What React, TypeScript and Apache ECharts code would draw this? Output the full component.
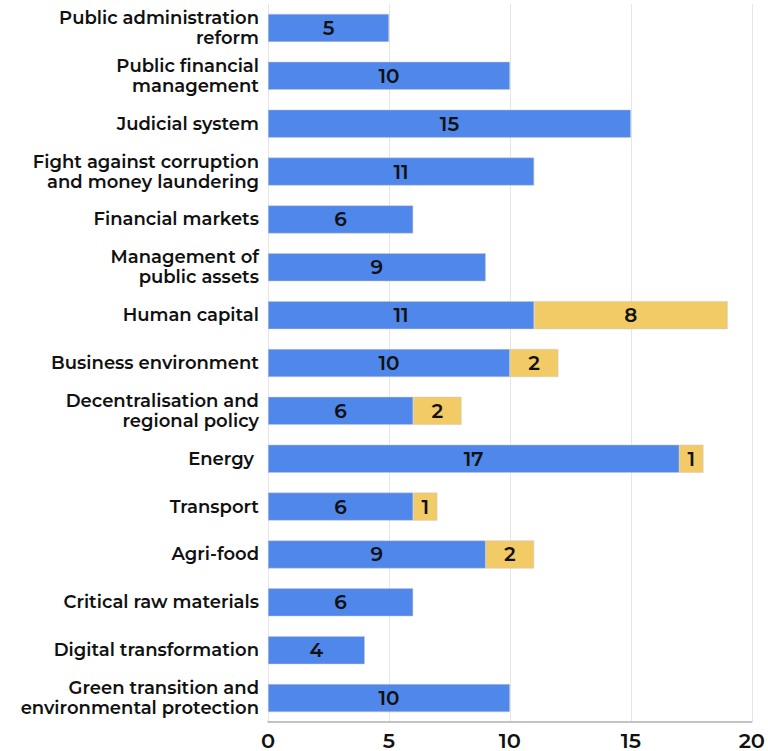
import React, { useEffect, useRef } from "react";
import * as echarts from "echarts";

const categories = [
  "Public administration\nreform",
  "Public financial\nmanagement",
  "Judicial system",
  "Fight against corruption\nand money laundering",
  "Financial markets",
  "Management of\npublic assets",
  "Human capital",
  "Business environment",
  "Decentralisation and\nregional policy",
  "Energy ",
  "Transport",
  "Agri-food",
  "Critical raw materials",
  "Digital transformation",
  "Green transition and\nenvironmental protection",
];
const blueValues = [5, 10, 15, 11, 6, 9, 11, 10, 6, 17, 6, 9, 6, 4, 10];
const yellowValues: (number | null)[] = [null, null, null, null, null, null, 8, 2, 2, 1, 1, 2, null, null, null];
const xTicks = [0, 5, 10, 15, 20];

const FONT = "Montserrat, 'Open Sans', sans-serif";

export default function App() {
  const ref = useRef<HTMLDivElement>(null);
  useEffect(() => {
    if (!ref.current) return;
    const chart = echarts.init(ref.current, null, { renderer: "svg" });
    const labelStyle = {
      show: true,
      position: "inside" as const,
      color: "#111111",
      fontSize: 20,
      fontWeight: 600 as const,
      fontFamily: FONT,
    };
    chart.setOption({
      animation: false,
      grid: { left: 268, right: 12, top: 4, bottom: 29, containLabel: false },
      xAxis: {
        type: "value",
        min: xTicks[0],
        max: xTicks[xTicks.length - 1],
        interval: 5,
        axisLine: { show: true, lineStyle: { color: "#b0b0b0", width: 1.5 } },
        axisTick: { show: false },
        splitLine: { show: true, lineStyle: { color: "#e6e6e6", width: 1 } },
        axisLabel: {
          color: "#111111",
          fontSize: 21,
          fontWeight: 600,
          fontFamily: FONT,
          lineHeight: 16,
          margin: 10,
        },
      },
      yAxis: {
        type: "category",
        data: categories,
        inverse: true,
        axisLine: { show: false },
        axisTick: { show: false },
        axisLabel: {
          color: "#111111",
          fontSize: 18,
          fontWeight: 600,
          fontFamily: FONT,
          lineHeight: 20,
          margin: 9,
          align: "right",
        },
      },
      series: [
        {
          type: "bar",
          stack: "total",
          data: blueValues,
          barWidth: 28,
          itemStyle: { color: "#5087EA", borderColor: "#c8c8c8", borderWidth: 0.5 },
          label: labelStyle,
        },
        {
          type: "bar",
          stack: "total",
          data: yellowValues,
          barWidth: 28,
          itemStyle: { color: "#F2CA66", borderColor: "#c8c8c8", borderWidth: 0.5 },
          label: labelStyle,
        },
      ],
    });
    return () => chart.dispose();
  }, []);
  return (
    <div
      ref={ref}
      style={{ position: "fixed", left: 0, top: 0, width: 768, height: 751, background: "#fff" }}
    />
  );
}
